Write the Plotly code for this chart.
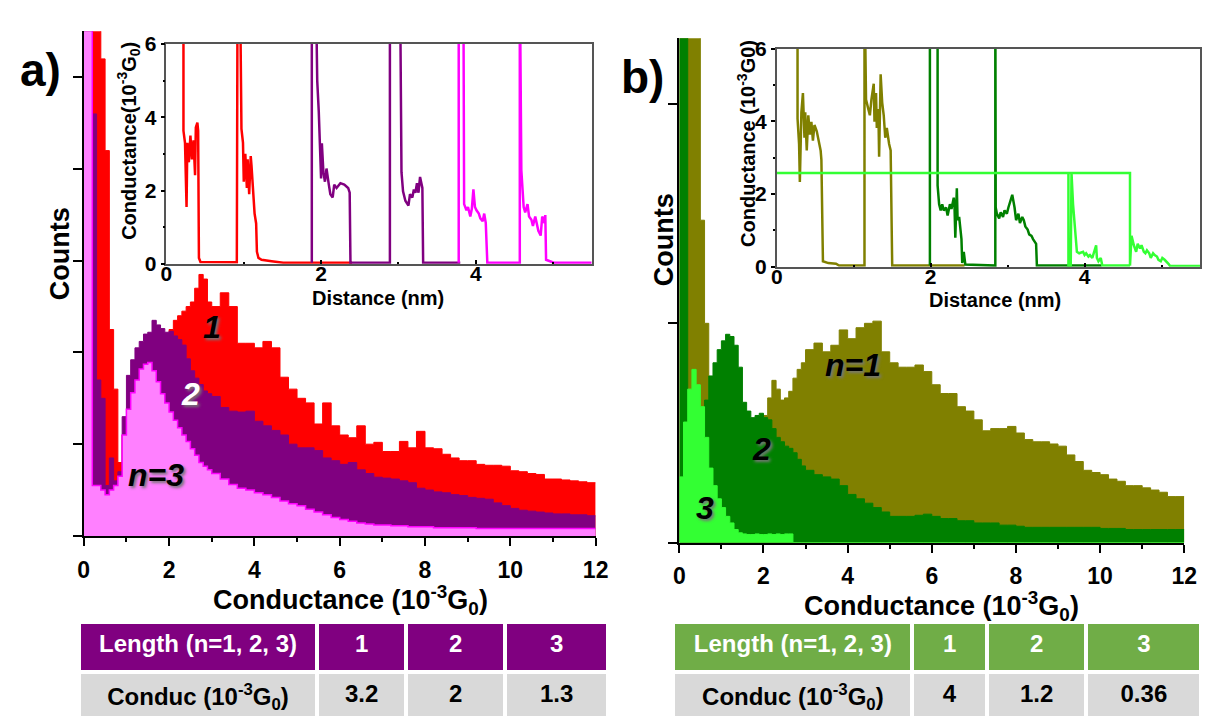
import plotly.graph_objects as go

W, H = 1215, 728
def px(x): return x / W
def py(y): return 1 - y / H

FONT = "Liberation Sans, Arial, sans-serif"
TFONT = "Liberation Sans, Arial, sans-serif"

# ---------------- histogram bins (conductance, 1e-3 G0) ----------------
GRID = [0.0, 0.1, 0.2, 0.3, 0.4, 0.5, 0.6, 0.7, 0.8, 0.9,
        1.0, 1.1, 1.2, 1.3, 1.4, 1.5, 1.6, 1.7, 1.8, 1.9,
        2.0, 2.1, 2.2, 2.3, 2.4, 2.5, 2.6, 2.7, 2.8, 2.9,
        3.0, 3.2, 3.4, 3.6, 3.8, 4.0, 4.2, 4.4, 4.6, 4.8,
        5.0, 5.2, 5.4, 5.6, 5.8, 6.0, 6.2, 6.4, 6.6, 6.8,
        7.0, 7.2, 7.4, 7.6, 7.8, 8.0, 8.2, 8.4, 8.6, 8.8,
        9.0, 9.2, 9.4, 9.6, 9.8, 10.0, 10.2, 10.4, 10.6, 10.8,
        11.0, 11.2, 11.4, 11.6, 11.8, 12.0]

# panel a counts (arbitrary units)
A_N1 = [7, 7, 7, 7, 5.2, 4.2, 2.25, 1.6, 0.8, 1.1,
        1.3, 1.5, 1.8, 1.9, 2.0, 2.05, 2.1, 2.15, 2.2, 2.2,
        2.25, 2.35, 2.4, 2.45, 2.5, 2.55, 2.7, 2.85, 2.8, 2.55,
        2.5, 2.65, 2.5, 2.1, 2.1, 2.05, 2.12, 2.05, 1.73, 1.6,
        1.5, 1.45, 1.22, 1.45, 1.2, 1.1, 1.07, 1.2, 1.0, 1.02,
        0.92, 0.92, 1.03, 0.96, 1.14, 0.96, 0.95, 0.89, 0.85, 0.82,
        0.82, 0.78, 0.77, 0.77, 0.76, 0.71, 0.7, 0.68, 0.67, 0.62,
        0.62, 0.61, 0.6, 0.59, 0.58, 0.58]
A_N2 = [6, 6, 4.6, 1.7, 1.5, 0.55, 0.85, 0.6, 0.7, 1.3,
        1.75, 1.92, 2.05, 2.12, 2.2, 2.22, 2.35, 2.3, 2.26, 2.22,
        2.23, 2.18, 2.14, 2.08, 1.93, 1.8, 1.72, 1.65, 1.58, 1.55,
        1.52, 1.4, 1.36, 1.35, 1.36, 1.25, 1.2, 1.15, 1.1, 1.0,
        0.96, 0.96, 0.93, 0.85, 0.82, 0.78, 0.8, 0.72, 0.68, 0.64,
        0.63, 0.62, 0.6, 0.58, 0.52, 0.5, 0.48, 0.47, 0.45, 0.44,
        0.42, 0.41, 0.4, 0.36, 0.33, 0.3, 0.28, 0.27, 0.26, 0.25,
        0.24, 0.24, 0.23, 0.23, 0.22, 0.22]
A_N3 = [7, 7, 0.55, 0.55, 0.5, 0.45, 0.5, 0.55, 0.65, 1.1,
        1.38, 1.56, 1.7, 1.82, 1.87, 1.89, 1.8, 1.68, 1.55, 1.45,
        1.35, 1.26, 1.18, 1.1, 1.03, 0.95, 0.88, 0.8, 0.76, 0.72,
        0.68, 0.62, 0.56, 0.52, 0.5, 0.47, 0.45, 0.42, 0.38, 0.35,
        0.33, 0.29, 0.26, 0.23, 0.2, 0.18, 0.16, 0.14, 0.13, 0.12,
        0.12, 0.11, 0.11, 0.1, 0.1, 0.1, 0.09, 0.09, 0.09, 0.09,
        0.09, 0.08, 0.08, 0.08, 0.08, 0.08, 0.08, 0.08, 0.08, 0.08,
        0.08, 0.08, 0.08, 0.08, 0.08, 0.08]

# panel b counts (arbitrary units)
B_N1 = [6, 6, 6, 6, 6, 1.47, 1.0, 0.55, 0.55, 0.55,
        0.55, 0.55, 0.55, 0.55, 0.55, 0.55, 0.55, 0.55, 0.55, 0.55,
        0.58, 0.66, 0.74, 0.7, 0.65, 0.66, 0.69, 0.75, 0.79, 0.82,
        0.88, 0.91, 0.87, 0.9, 0.97, 0.93, 0.98, 1.0, 1.01, 0.87,
        0.82, 0.8, 0.8, 0.81, 0.78, 0.72, 0.68, 0.68, 0.62, 0.6,
        0.56, 0.51, 0.52, 0.52, 0.53, 0.5, 0.47, 0.46, 0.46, 0.45,
        0.44, 0.4, 0.37, 0.33, 0.32, 0.31, 0.29, 0.28, 0.26, 0.26,
        0.25, 0.24, 0.23, 0.21, 0.21, 0.21]
B_N2 = [6, 6, 0.3, 0.3, 0.3, 0.45, 0.65, 0.76, 0.82, 0.88,
        0.92, 0.95, 0.94, 0.9, 0.8, 0.64, 0.6, 0.57, 0.58, 0.59,
        0.57, 0.56, 0.52, 0.48, 0.46, 0.44, 0.43, 0.41, 0.38, 0.35,
        0.33, 0.31, 0.3, 0.29, 0.26, 0.22, 0.2, 0.18, 0.16, 0.14,
        0.12, 0.12, 0.12, 0.125, 0.13, 0.12, 0.11, 0.11, 0.1, 0.1,
        0.09, 0.09, 0.09, 0.08, 0.08, 0.075, 0.07, 0.07, 0.07, 0.07,
        0.07, 0.07, 0.07, 0.07, 0.07, 0.065, 0.065, 0.065, 0.06, 0.06,
        0.06, 0.06, 0.06, 0.06, 0.06, 0.06]
B_N3 = [0.3, 0.55, 0.7, 0.79, 0.72, 0.62, 0.48, 0.34, 0.26, 0.2,
        0.16, 0.12, 0.09, 0.06, 0.045, 0.04, 0.037, 0.037, 0.04, 0.037,
        0.037, 0.04, 0.037, 0.04, 0.037, 0.04, 0.04, 0, 0, 0,
        0, 0, 0, 0, 0, 0, 0, 0, 0, 0,
        0, 0, 0, 0, 0, 0, 0, 0, 0, 0,
        0, 0, 0, 0, 0, 0, 0, 0, 0, 0,
        0, 0, 0, 0, 0, 0, 0, 0, 0, 0,
        0, 0, 0, 0, 0, 0]

# ---------------- inset traces (distance nm, conductance 1e-3 G0) ----------------
IA_RED_D = [0.22, 0.22, 0.24, 0.26, 0.27, 0.29, 0.31, 0.33, 0.35, 0.37,
            0.38, 0.40, 0.41, 0.42, 0.44, 0.91, 0.92, 0.95, 0.97, 0.99,
            1.00, 1.02, 1.04, 1.05, 1.07, 1.09, 1.10, 1.12, 1.14, 1.16,
            1.17, 1.19, 1.23, 1.36, 1.51, 2.40]
IA_RED_G = [8, 3.63, 3.3, 1.55, 3.3, 2.77, 3.5, 2.85, 3.37, 2.42,
            3.72, 3.85, 3.63, 0.16, 0.05, 0.04, 8, 8, 3.68, 3.3,
            2.24, 3.0, 2.07, 2.85, 1.9, 2.94, 2.68, 1.9, 1.37, 1.1,
            0.33, 0.16, 0.11, 0.07, 0.03, 0.03]
IA_PUR_D = [1.88, 1.88, 1.93, 1.95, 1.97, 1.98, 2.00, 2.01, 2.03, 2.05,
            2.07, 2.10, 2.12, 2.15, 2.17, 2.20, 2.25, 2.30, 2.35, 2.37,
            2.38, 2.89, 2.89, 3.02, 3.04, 3.06, 3.09, 3.13, 3.15, 3.18,
            3.20, 3.22, 3.24, 3.26, 3.28, 3.31, 3.32, 3.80]
IA_PUR_G = [0.03, 8, 8, 5.0, 4.16, 3.29, 2.33, 3.29, 2.5, 2.24,
            2.6, 2.16, 1.9, 1.81, 2.16, 2.07, 2.2, 2.16, 2.07, 1.94,
            0.03, 0.03, 8, 8, 2.5, 1.98, 1.72, 1.59, 1.9, 1.81,
            2.03, 1.94, 2.2, 1.94, 2.37, 2.07, 0.03, 0.03]
IA_MAG_D = [3.78, 3.78, 3.84, 3.85, 3.88, 3.90, 3.93, 3.95, 3.97, 3.99,
            4.01, 4.04, 4.06, 4.09, 4.11, 4.13, 4.15, 4.57, 4.57, 4.59,
            4.62, 4.64, 4.67, 4.69, 4.72, 4.74, 4.77, 4.79, 4.81, 4.84,
            4.86, 4.89, 4.90, 4.91, 4.96, 5.01, 5.50]
IA_MAG_G = [0.03, 8, 8, 1.63, 1.46, 1.55, 1.29, 1.5, 2.03, 1.55,
            1.46, 1.37, 1.24, 1.16, 1.37, 1.11, 0.03, 0.03, 8, 2.55,
            1.55, 1.4, 1.63, 1.29, 1.2, 1.03, 1.29, 1.11, 0.9, 0.77,
            1.29, 1.11, 1.33, 0.11, 0.07, 0.03, 0.03]

IB_OLV_D = [0.27, 0.27, 0.29, 0.30, 0.32, 0.34, 0.36, 0.37, 0.39, 0.41,
            0.43, 0.45, 0.47, 0.49, 0.52, 0.54, 0.57, 0.58, 0.60, 0.67,
            0.77, 0.81, 1.14, 1.14, 1.16, 1.19, 1.21, 1.23, 1.26, 1.27,
            1.29, 1.30, 1.32, 1.33, 1.35, 1.37, 1.39, 1.41, 1.43, 1.46,
            1.48, 1.50, 2.44]
IB_OLV_G = [8, 4.08, 3.38, 2.33, 4.25, 4.78, 3.55, 4.25, 3.2, 4.17,
            3.64, 3.99, 3.47, 3.9, 3.73, 3.47, 3.2, 2.94, 0.15, 0.1,
            0.08, 0.03, 0.03, 8, 4.6, 4.34, 4.17, 4.6, 5.04, 3.99,
            4.78, 3.82, 4.34, 3.03, 5.3, 4.52, 4.17, 3.55, 3.82, 3.38,
            3.2, 0.03, 0.03]
IB_GRN_D = [1.99, 1.99, 2.09, 2.09, 2.11, 2.13, 2.15, 2.17, 2.20, 2.22,
            2.25, 2.27, 2.30, 2.31, 2.32, 2.34, 2.35, 2.37, 2.40, 2.41,
            2.43, 2.45, 2.84, 2.84, 2.845, 2.86, 2.89, 2.91, 2.94, 2.96,
            2.99, 3.01, 3.04, 3.06, 3.09, 3.11, 3.14, 3.16, 3.19, 3.21,
            3.23, 3.26, 3.28, 3.31, 3.33, 3.36, 3.37, 3.38, 4.22]
IB_GRN_G = [0.03, 8, 8, 2.24, 1.72, 1.55, 1.72, 1.55, 1.63, 1.41,
            1.72, 1.59, 1.9, 1.63, 0.8, 2.16, 1.28, 1.37, 0.76, 0.1,
            0.41, 0.06, 0.03, 8, 1.63, 1.46, 1.33, 1.5, 1.37, 1.55,
            1.46, 1.63, 1.85, 1.98, 1.63, 1.28, 1.46, 1.2, 1.37, 1.28,
            1.11, 1.02, 0.89, 0.85, 0.76, 0.67, 0.63, 0.03, 0.03]
IB_LIM_D = [0.0, 4.59, 4.59, 4.61, 4.64, 4.67, 4.69, 4.72, 4.74, 4.77,
            4.79, 4.81, 4.84, 4.86, 4.89, 4.91, 4.94, 4.96, 4.99, 5.01,
            5.04, 5.06, 5.09, 5.11, 5.50, None, 3.79, 3.79, 3.82, 3.83,
            3.85, 3.87, 3.89, 3.90, 3.93, 3.98, 4.00, 4.02, 4.05, 4.07,
            4.10, 4.12, 4.15, 4.16, 4.18, 4.21, 4.23, 4.59]
IB_LIM_G = [2.58, 2.58, 0.03, 0.85, 0.59, 0.41, 0.63, 0.5, 0.59, 0.41,
            0.37, 0.45, 0.37, 0.24, 0.37, 0.32, 0.28, 0.19, 0.15, 0.24,
            0.19, 0.15, 0.08, 0.02, 0.02, None, 2.58, 0.03, 0.03, 2.58,
            1.72, 1.2, 0.76, 0.41, 0.37, 0.41, 0.32, 0.37, 0.28, 0.32,
            0.24, 0.41, 0.59, 0.24, 0.15, 0.24, 0.03, 0.03]

# ---------------- tables ----------------
TA_HEAD = ["Length (n=1, 2, 3)", "1", "2", "3"]
TA_ROW = ["Conduc (10<sup>-3</sup>G<sub>0</sub>)", "3.2", "2", "1.3"]
TB_HEAD = ["Length (n=1, 2, 3)", "1", "2", "3"]
TB_ROW = ["Conduc (10<sup>-3</sup>G<sub>0</sub>)", "4", "1.2", "0.36"]

fig = go.Figure()

def hist(x, y, color, fill, xa, ya, lw=1):
    fig.add_trace(go.Scatter(x=x, y=y, mode="lines", line=dict(shape="hv", color=color, width=lw),
                             fill="tozeroy", fillcolor=fill, xaxis=xa, yaxis=ya,
                             hoverinfo="skip", showlegend=False))

def trace(x, y, color, xa, ya):
    fig.add_trace(go.Scatter(x=x, y=y, mode="lines", line=dict(color=color, width=2.5),
                             xaxis=xa, yaxis=ya, hoverinfo="skip", showlegend=False,
                             connectgaps=False))

# panel a main
hist(GRID, A_N1, "#FF0000", "#FF0000", "x", "y")
hist(GRID, A_N2, "#800080", "#800080", "x", "y")
hist(GRID, A_N3, "#FF00FF", "#FF80FF", "x", "y", 1.5)
# panel b main
hist(GRID, B_N1, "#808000", "#808000", "x3", "y3")
hist(GRID, B_N2, "#008000", "#008000", "x3", "y3")
hist(GRID, B_N3, "#33FF33", "#33FF33", "x3", "y3")
# insets
trace(IA_RED_D, IA_RED_G, "#FF0000", "x2", "y2")
trace(IA_PUR_D, IA_PUR_G, "#800080", "x2", "y2")
trace(IA_MAG_D, IA_MAG_G, "#FF00FF", "x2", "y2")
trace(IB_OLV_D, IB_OLV_G, "#808000", "x4", "y4")
trace(IB_GRN_D, IB_GRN_G, "#008000", "x4", "y4")
trace(IB_LIM_D, IB_LIM_G, "#33FF33", "x4", "y4")

def table(domx, head, row, hcolor, widths):
    fig.add_trace(go.Table(
        domain=dict(x=domx, y=[0, py(630)]),
        columnwidth=widths,
        header=dict(values=["<b>%s</b>" % v for v in head], fill_color=hcolor, align="center",
                    height=50, line=dict(color="white", width=4),
                    font=dict(family=TFONT, size=24, color="white")),
        cells=dict(values=[["<b>%s</b>" % v] for v in row], fill_color="#D9D9D9", align="center",
                   height=58, line=dict(color="white", width=4),
                   font=dict(family=TFONT, size=24, color="black"))))

table([px(74), px(612)], TA_HEAD, TA_ROW, "#800080", [242, 90, 101, 104])
table([px(678), px(1215)], TB_HEAD, TB_ROW, "#70AD47", [243, 76, 101, 117])

tickfont_main = dict(family=FONT, size=23, color="black", weight="bold")
tickfont_in = dict(family=FONT, size=21, color="black", weight="bold")

def main_x(dom, anchor):
    return dict(domain=dom, anchor=anchor, range=[0, 12], tick0=0, dtick=2, ticks="outside",
                ticklen=8, tickwidth=2, tickcolor="black", showline=True, linecolor="black",
                linewidth=2, showgrid=False, zeroline=False, tickfont=tickfont_main,
                ticklabelstandoff=4,
                minor=dict(ticks="outside", dtick=1, tick0=0, ticklen=4, tickwidth=2,
                           tickcolor="black", showgrid=False))

def main_y(dom, anchor, top):
    return dict(domain=dom, anchor=anchor, range=[0, top], tick0=0, dtick=1, ticks="outside",
                ticklen=9, tickwidth=2, tickcolor="black", showticklabels=False, showline=True,
                linecolor="black", linewidth=2, showgrid=False, zeroline=False)

def in_x(dom, anchor):
    return dict(domain=dom, anchor=anchor, range=[0, 5.5], tick0=0, dtick=2, ticks="inside",
                ticklen=4, tickwidth=1.5, tickcolor="black", showline=True, mirror=True,
                linecolor="#555", linewidth=1.5, showgrid=False, zeroline=False,
                tickfont=tickfont_in, ticklabelstandoff=-10,
                minor=dict(ticks="inside", dtick=1, tick0=0, ticklen=2, tickwidth=1.5,
                           tickcolor="black", showgrid=False))

def in_y(dom, anchor):
    return dict(domain=dom, anchor=anchor, range=[0, 6], tick0=0, dtick=2, ticks="outside",
                ticklen=4, tickwidth=1.5, tickcolor="black", showline=True, mirror=True,
                linecolor="#555", linewidth=1.5, showgrid=False, zeroline=False,
                tickfont=tickfont_in, ticklabelstandoff=0,
                minor=dict(ticks="outside", dtick=1, tick0=0, ticklen=2, tickwidth=1.5,
                           tickcolor="black", showgrid=False))

def ann(text, x, y, size, color="black", angle=0, style="normal", shadow="none"):
    return dict(text=text, x=px(x), y=py(y), xref="paper", yref="paper", showarrow=False,
                xanchor="center", yanchor="middle", textangle=angle,
                font=dict(family=FONT, size=size, color=color, weight="bold", style=style,
                          shadow=shadow))

SH = "2px 2px 3px #777"
annotations = [
    ann("a)", 35, 60, 46),
    ann("b)", 647, 67, 46),
    ann("Counts", 55, 250, 27, angle=-90),
    ann("Counts", 668, 235, 27, angle=-90),
    ann("Conductance (10<sup>-3</sup>G<sub>0</sub>)", 350, 607, 27),
    ann("Conductance (10<sup>-3</sup>G<sub>0</sub>)", 950, 613, 27),
    ann("Distance (nm)", 378, 295, 20),
    ann("Distance (nm)", 1005, 297, 20),
    ann("Conductance(10<sup>-3</sup>G<sub>0</sub>)", 125, 133, 20, angle=-90),
    ann("Conductance (10<sup>-3</sup>G0)", 752, 136, 20, angle=-90),
    ann("1", 209, 325, 32, style="italic", shadow=SH),
    ann("2", 187, 394, 32, color="white", style="italic", shadow=SH),
    ann("n=3", 152, 478, 32, style="italic", shadow=SH),
    ann("n=1", 860, 365, 32, style="italic", shadow=SH),
    ann("2", 767, 451, 32, style="italic", shadow=SH),
    ann("3", 710, 512, 32, style="italic", shadow=SH),
]

fig.update_layout(
    width=W, height=H, margin=dict(l=0, r=0, t=0, b=0),
    paper_bgcolor="white", plot_bgcolor="rgba(0,0,0,0)",
    font=dict(family=FONT, color="black"),
    showlegend=False,
    xaxis=main_x([px(79), px(599)], "y"),
    yaxis=main_y([py(541), py(20)], "x", 5.5),
    xaxis2=in_x([px(163), px(595)], "y2"),
    yaxis2=in_y([py(260), py(33)], "x2"),
    xaxis3=main_x([px(684), px(1197)], "y3"),
    yaxis3=main_y([py(548), py(27)], "x3", 2.3),
    xaxis4=in_x([px(783), px(1213)], "y4"),
    yaxis4=in_y([py(263), py(38)], "x4"),
    annotations=annotations,
)

fig.write_html("out.html")
